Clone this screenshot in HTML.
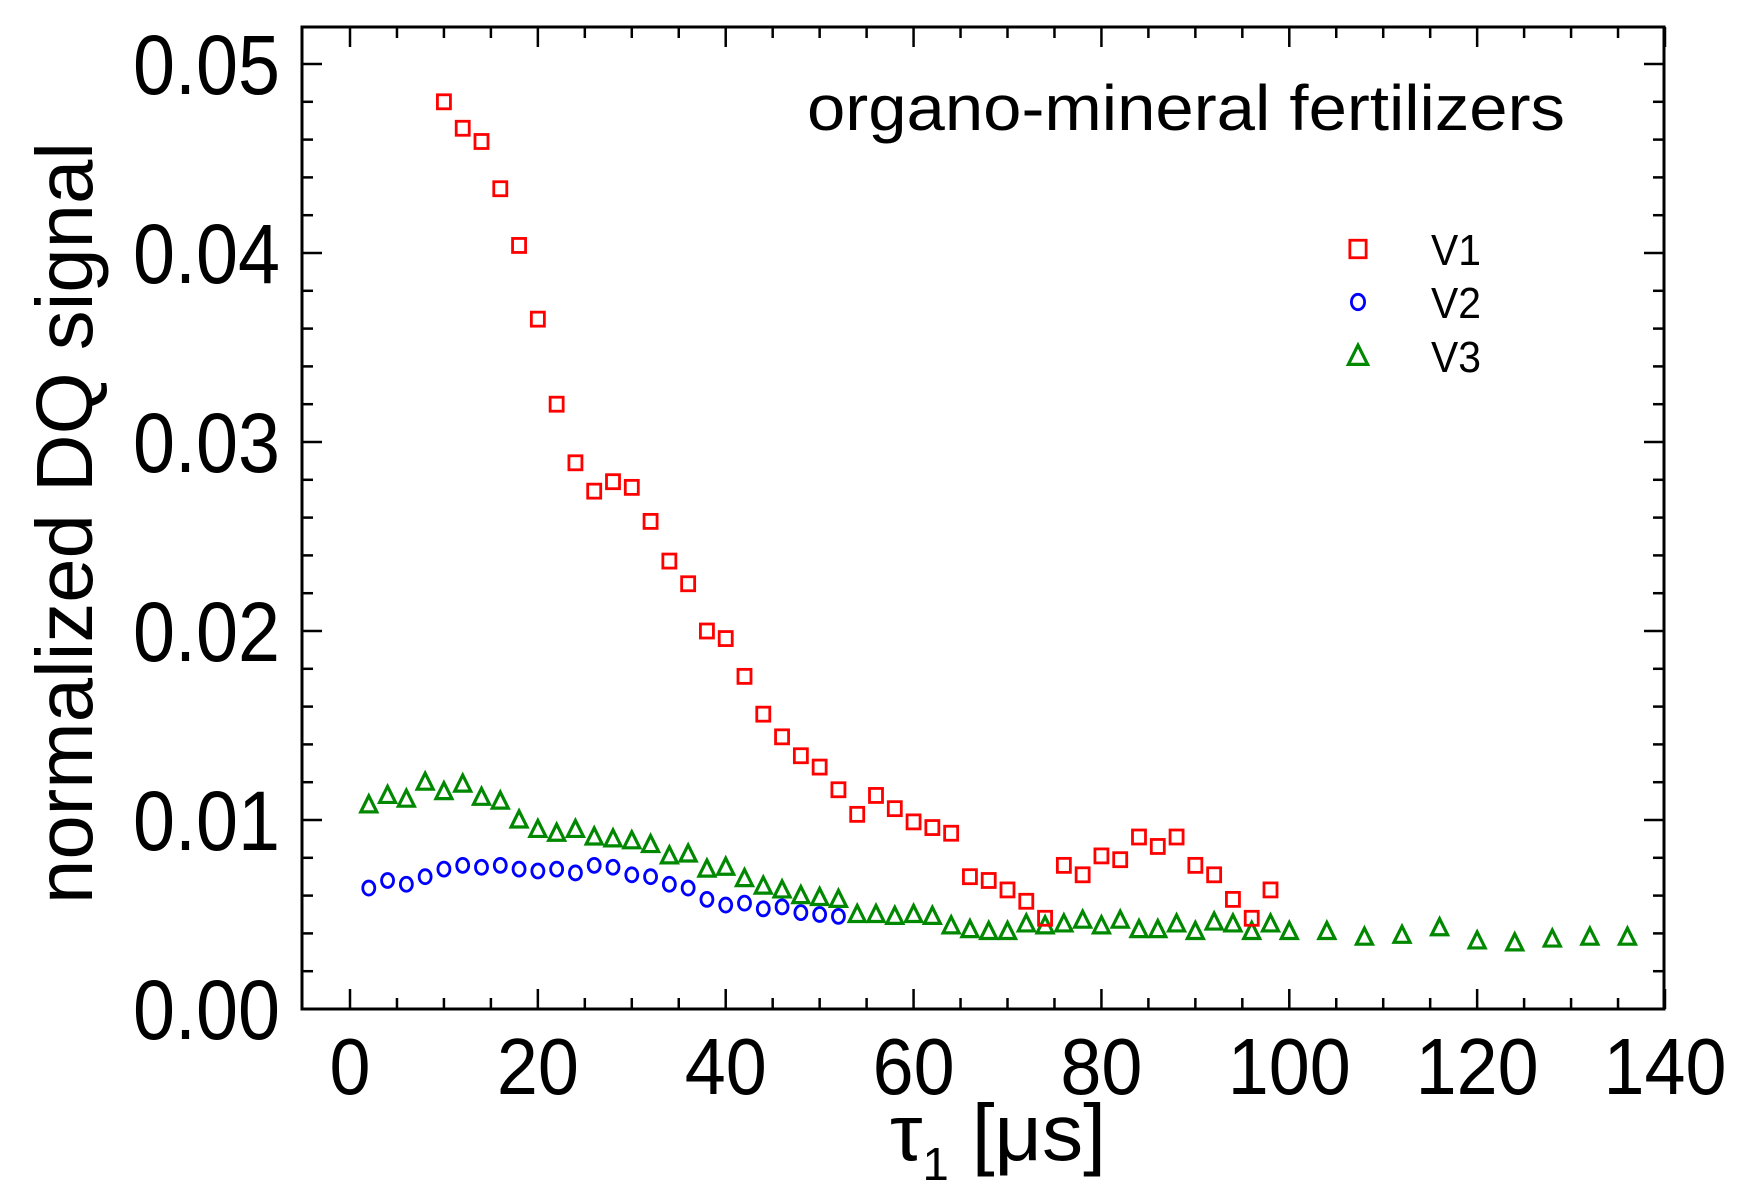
<!DOCTYPE html>
<html><head><meta charset="utf-8">
<style>html,body{margin:0;padding:0;background:#fff}svg{display:block}</style>
</head><body>
<svg id="chart" width="1743" height="1198" viewBox="0 0 1743 1198" xmlns="http://www.w3.org/2000/svg">
<g id="axes"></g><g id="marks"></g>
<text x="1186" y="130" font-family="Liberation Sans, sans-serif" font-size="64" textLength="758" lengthAdjust="spacingAndGlyphs" text-anchor="middle">organo-mineral fertilizers</text>
<text transform="translate(92,523) rotate(-90)" font-family="Liberation Sans, sans-serif" font-size="80" text-anchor="middle" textLength="762" lengthAdjust="spacingAndGlyphs">normalized DQ signal</text>
<text x="890" y="1160" font-family="Liberation Sans, sans-serif" font-size="80" textLength="216" lengthAdjust="spacingAndGlyphs">τ<tspan font-size="46" dy="20">1</tspan><tspan dy="-20"> [μs]</tspan></text>
</svg>
<script>
const xTicks=[0,20,40,60,80,100,120,140];
const yTicks=[0,0.01,0.02,0.03,0.04,0.05];
const yTickLabels=["0.00","0.01","0.02","0.03","0.04","0.05"];
const v1X=[10,12,14,16,18,20,22,24,26,28,30,32,34,36,38,40,42,44,46,48,50,52,54,56,58,60,62,64,66,68,70,72,74,76,78,80,82,84,86,88,90,92,94,96,98];
const v1Y=[0.048,0.0466,0.0459,0.0434,0.0404,0.0365,0.032,0.0289,0.0274,0.0279,0.0276,0.0258,0.0237,0.0225,0.02,0.0196,0.0176,0.0156,0.0144,0.0134,0.0128,0.0116,0.0103,0.0113,0.0106,0.0099,0.0096,0.0093,0.007,0.0068,0.0063,0.0057,0.0048,0.0076,0.0071,0.0081,0.0079,0.0091,0.0086,0.0091,0.0076,0.0071,0.0058,0.0048,0.0063];
const v2X=[2,4,6,8,10,12,14,16,18,20,22,24,26,28,30,32,34,36,38,40,42,44,46,48,50,52];
const v2Y=[0.0064,0.0068,0.0066,0.007,0.0074,0.0076,0.0075,0.0076,0.0074,0.0073,0.0074,0.0072,0.0076,0.0075,0.0071,0.007,0.0066,0.0064,0.0058,0.0055,0.0056,0.0053,0.0054,0.0051,0.005,0.0049];
const v3X=[2,4,6,8,10,12,14,16,18,20,22,24,26,28,30,32,34,36,38,40,42,44,46,48,50,52,54,56,58,60,62,64,66,68,70,72,74,76,78,80,82,84,86,88,90,92,94,96,98,100,104,108,112,116,120,124,128,132,136];
const v3Y=[0.0108,0.0113,0.0111,0.012,0.0115,0.0119,0.0112,0.011,0.01,0.0095,0.0093,0.0095,0.0091,0.009,0.0089,0.0087,0.0081,0.0082,0.0074,0.0075,0.0069,0.0065,0.0063,0.006,0.0059,0.0058,0.005,0.005,0.0049,0.005,0.0049,0.0044,0.0042,0.0041,0.0041,0.0045,0.0044,0.0045,0.0047,0.0044,0.0047,0.0042,0.0042,0.0045,0.0041,0.0046,0.0045,0.0041,0.0045,0.0041,0.0041,0.0038,0.0039,0.0043,0.0036,0.0035,0.0037,0.0038,0.0038];

const NS="http://www.w3.org/2000/svg";
const L=302,R=1664,T=27,B=1009;
const xs=v=>350+(v/140)*(1665-350);
const ys=v=>B-(v/0.05)*(B-64);
function mk(tag,attrs,parent){const e=document.createElementNS(NS,tag);for(const k in attrs)e.setAttribute(k,attrs[k]);parent.appendChild(e);return e;}
const ax=document.getElementById('axes'),mg=document.getElementById('marks');
const frame=mk('rect',{x:L,y:T,width:R-L,height:B-T,fill:'none',stroke:'#000','stroke-width':3},ax);


for(let v=0;v<=140;v+=5){const x=xs(v);const maj=v%20===0;const len=maj?20:11;
 const t1=mk('line',{x1:x,y1:B,x2:x,y2:B-len,stroke:'#000','stroke-width':2.5},ax);
 
 
 const t2=mk('line',{x1:x,y1:T,x2:x,y2:T+len,stroke:'#000','stroke-width':2.5},ax);
 
 }
xTicks.forEach(v=>{const s=String(v);const t=mk('text',{x:xs(v),y:1094,'font-family':'Liberation Sans, sans-serif','font-size':80,'text-anchor':'middle',textLength:s.length*41,lengthAdjust:'spacingAndGlyphs'},ax);t.textContent=s;
 
 });
for(let i=0;i<=26;i++){const v=i*0.002;const y=ys(v);if(y<T)continue;const maj=i%5===0;const len=maj?20:11;
 const t1=mk('line',{x1:L,y1:y,x2:L+len,y2:y,stroke:'#000','stroke-width':2.5},ax);
 
 
 const t2=mk('line',{x1:R,y1:y,x2:R-len,y2:y,stroke:'#000','stroke-width':2.5},ax);
 
 }
yTicks.forEach((v,i)=>{const t=mk('text',{x:280,y:ys(v)+30,'font-family':'Liberation Sans, sans-serif','font-size':84,'text-anchor':'end',textLength:147,lengthAdjust:'spacingAndGlyphs'},ax);t.textContent=yTickLabels[i];
 
 });
function square(cx,cy,name,s){s=s||1;const e=mk('rect',{x:cx-6.5*s,y:cy-7*s,width:13*s,height:14*s,fill:'none',stroke:'#f00','stroke-width':2.8},mg);
 
 }
function circle(cx,cy,name,s){s=s||1;const e=mk('ellipse',{cx:cx,cy:cy,rx:6*s,ry:7*s,fill:'none',stroke:'#00f','stroke-width':2.8},mg);
 
 }
function tri(cx,cy,name,s){s=s||1;const e=mk('polygon',{points:`${cx-8*s},${cy+7*s} ${cx+8*s},${cy+7*s} ${cx},${cy-9*s}`,fill:'none',stroke:'#080','stroke-width':3.2},mg);
 
 }
v3X.forEach((x,i)=>tri(xs(x),ys(v3Y[i]),'v3-point'));
v2X.forEach((x,i)=>circle(xs(x),ys(v2Y[i]),'v2-point'));
v1X.forEach((x,i)=>square(xs(x),ys(v1Y[i]),'v1-point'));
square(1358,249,'legend-v1-marker',1.25);circle(1358,302,'legend-v2-marker',1.1);tri(1358,356,'legend-v3-marker',1.2);
[['V1',249],['V2',302],['V3',356]].forEach(([s,y])=>{const t=mk('text',{x:1431,y:y+16,'font-family':'Liberation Sans, sans-serif','font-size':44,textLength:50,lengthAdjust:'spacingAndGlyphs'},mg);t.textContent=s;
 
 });
</script>
</body></html>
